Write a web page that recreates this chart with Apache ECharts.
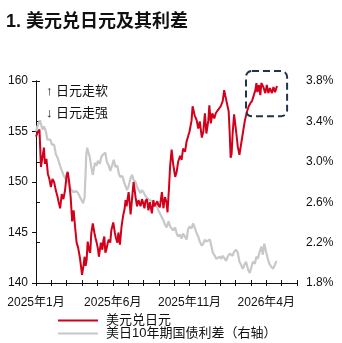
<!DOCTYPE html>
<html>
<head>
<meta charset="utf-8">
<script src="https://cdn.jsdelivr.net/npm/echarts@6/dist/echarts.min.js"></script>
<style>
  html, body { margin: 0; padding: 0; background: #fff; }
  #chart { width: 342px; height: 343px; }
</style>
</head>
<body>
<div id="chart"></div>
<script>
// USD/JPY spot (left axis)
const usdjpyDates = [
  '2025-01-01','2025-01-05','2025-01-08','2025-01-11','2025-01-14','2025-01-17','2025-01-19','2025-01-22','2025-01-25','2025-01-28','2025-01-31',
  '2025-02-03','2025-02-06','2025-02-09','2025-02-12','2025-02-14','2025-02-17','2025-02-20','2025-02-23','2025-02-26',
  '2025-03-01','2025-03-03','2025-03-06','2025-03-09','2025-03-12','2025-03-15','2025-03-18','2025-03-21','2025-03-24','2025-03-27','2025-03-29',
  '2025-04-01','2025-04-04','2025-04-06','2025-04-08','2025-04-10','2025-04-12','2025-04-15','2025-04-17','2025-04-19','2025-04-22','2025-04-25','2025-04-27','2025-04-30',
  '2025-05-02','2025-05-04','2025-05-08','2025-05-11','2025-05-13','2025-05-15','2025-05-17','2025-05-19','2025-05-22','2025-05-24','2025-05-27','2025-05-29',
  '2025-06-02','2025-06-05','2025-06-07','2025-06-10','2025-06-12','2025-06-15','2025-06-18','2025-06-21','2025-06-24','2025-06-26','2025-06-28',
  '2025-07-02','2025-07-04','2025-07-06','2025-07-10','2025-07-12','2025-07-16','2025-07-19','2025-07-22','2025-07-26','2025-07-29','2025-07-31',
  '2025-08-03','2025-08-05','2025-08-08','2025-08-11','2025-08-14','2025-08-18','2025-08-21','2025-08-23','2025-08-26','2025-08-29','2025-08-31',
  '2025-09-03','2025-09-07','2025-09-10','2025-09-13','2025-09-16','2025-09-18','2025-09-21','2025-09-23','2025-09-26','2025-09-29',
  '2025-10-03','2025-10-06','2025-10-09','2025-10-13','2025-10-16','2025-10-19','2025-10-23','2025-10-26','2025-10-29',
  '2025-11-01','2025-11-05','2025-11-07','2025-11-08','2025-11-11','2025-11-15','2025-11-18','2025-11-21','2025-11-25','2025-11-28',
  '2025-12-01','2025-12-04','2025-12-08','2025-12-10','2025-12-13','2025-12-16','2025-12-20','2025-12-23','2025-12-27',
  '2026-01-02','2026-01-06','2026-01-09','2026-01-11','2026-01-15','2026-01-18','2026-01-20','2026-01-22','2026-01-24','2026-01-26','2026-01-29',
  '2026-02-02','2026-02-05','2026-02-08','2026-02-11','2026-02-15','2026-02-18','2026-02-22','2026-02-25','2026-02-28',
  '2026-03-03','2026-03-07','2026-03-10','2026-03-12','2026-03-14','2026-03-17','2026-03-20','2026-03-22','2026-03-26','2026-03-30',
  '2026-04-02','2026-04-05','2026-04-08','2026-04-12','2026-04-15','2026-04-18','2026-04-22'
];
const usdjpyValues = [
  154.5,155.0,155.2,151.5,151.4,153.4,151.8,152.3,150.8,150.3,149.5,
  150.3,150.0,149.2,148.6,148.1,147.4,148.8,148.3,149.2,
  150.7,151.0,150.0,148.5,146.1,147.2,145.5,144.0,143.5,142.7,142.0,
  140.8,141.8,142.6,141.7,142.3,144.1,143.2,143.0,144.9,145.9,145.0,144.5,143.9,
  143.4,142.6,144.0,143.3,144.2,144.6,143.0,143.3,144.0,144.3,144.0,145.2,
  146.0,145.0,144.5,144.0,145.0,143.8,145.5,146.6,147.3,148.2,147.6,
  149.0,148.0,146.8,148.9,150.0,148.5,147.6,148.2,147.6,148.3,148.0,
  147.4,148.1,148.3,147.2,148.0,146.9,148.2,147.6,147.7,148.1,147.7,
  147.5,149.0,147.4,148.5,148.0,147.0,149.5,151.5,153.2,151.8,
  150.5,151.0,152.0,152.6,152.2,153.3,153.0,154.0,154.5,
  155.0,156.1,157.5,157.4,156.6,156.1,155.3,156.0,154.4,155.0,
  156.8,154.8,156.1,157.6,155.8,156.8,156.3,156.8,157.1,
  157.5,158.0,159.1,158.6,158.5,157.0,155.0,152.4,152.8,154.8,156.7,
  155.0,153.5,152.7,152.8,155.1,156.1,157.0,157.5,157.8,
  158.0,158.1,159.1,159.8,158.9,159.6,158.6,159.8,159.4,158.8,
  159.6,158.8,159.3,158.8,159.4,158.9,159.5
];

// US-Japan 10Y government bond yield spread, % (right axis)
const spreadDates = [
  '2025-01-01','2025-01-03','2025-01-06','2025-01-09','2025-01-12','2025-01-14','2025-01-17','2025-01-21','2025-01-24','2025-01-27','2025-01-30',
  '2025-02-02','2025-02-06','2025-02-09','2025-02-11','2025-02-13','2025-02-17','2025-02-21','2025-02-23','2025-02-26',
  '2025-03-01','2025-03-04','2025-03-07','2025-03-11','2025-03-14','2025-03-17','2025-03-20','2025-03-24','2025-03-27','2025-03-30',
  '2025-04-03','2025-04-06','2025-04-08','2025-04-09','2025-04-11','2025-04-14','2025-04-16','2025-04-19','2025-04-22','2025-04-26','2025-04-29',
  '2025-05-02','2025-05-06','2025-05-09','2025-05-12','2025-05-14','2025-05-17','2025-05-20','2025-05-24','2025-05-27','2025-05-31',
  '2025-06-03','2025-06-06','2025-06-10','2025-06-13','2025-06-16','2025-06-20','2025-06-23','2025-06-26','2025-06-29',
  '2025-07-02','2025-07-06','2025-07-09','2025-07-12','2025-07-16','2025-07-19','2025-07-22','2025-07-26','2025-07-29',
  '2025-08-01','2025-08-04','2025-08-08','2025-08-11','2025-08-14','2025-08-18','2025-08-21','2025-08-24','2025-08-28','2025-08-31',
  '2025-09-03','2025-09-06','2025-09-10','2025-09-13','2025-09-16','2025-09-20','2025-09-23','2025-09-26','2025-09-29',
  '2025-10-03','2025-10-06','2025-10-09','2025-10-13','2025-10-16','2025-10-19','2025-10-23','2025-10-26','2025-10-29',
  '2025-11-01','2025-11-05','2025-11-08','2025-11-11','2025-11-15','2025-11-18','2025-11-21','2025-11-25','2025-11-28',
  '2025-12-01','2025-12-04','2025-12-08','2025-12-11','2025-12-14','2025-12-17','2025-12-21','2025-12-24','2025-12-27','2025-12-31',
  '2026-01-03','2026-01-06','2026-01-10','2026-01-13','2026-01-16','2026-01-20','2026-01-23','2026-01-26','2026-01-29',
  '2026-02-02','2026-02-05','2026-02-08','2026-02-11','2026-02-14','2026-02-17','2026-02-20','2026-02-24','2026-02-27',
  '2026-03-02','2026-03-05','2026-03-09','2026-03-12','2026-03-15','2026-03-18','2026-03-22','2026-03-25','2026-03-28',
  '2026-04-01','2026-04-04','2026-04-07','2026-04-11','2026-04-14','2026-04-17','2026-04-20','2026-04-22'
];
const spreadValues = [
  3.30,3.34,3.38,3.41,3.40,3.32,3.35,3.30,3.22,3.21,3.22,
  3.17,3.17,3.08,3.07,3.03,2.96,2.90,2.87,2.84,
  2.82,2.80,2.75,2.72,2.70,2.69,2.71,2.69,2.66,2.65,
  2.59,2.65,2.90,3.05,3.14,3.08,3.05,2.95,2.87,2.99,2.96,
  3.01,2.98,3.05,3.07,3.06,3.09,3.00,2.96,2.91,2.97,
  3.02,2.95,2.96,2.88,2.85,2.86,2.80,2.76,2.72,
  2.76,2.84,2.87,2.82,2.80,2.75,2.74,2.69,2.72,
  2.70,2.67,2.64,2.65,2.62,2.63,2.60,2.58,2.56,2.52,
  2.49,2.50,2.42,2.38,2.35,2.41,2.36,2.37,2.32,
  2.35,2.29,2.26,2.28,2.24,2.29,2.28,2.23,2.33,
  2.36,2.34,2.39,2.35,2.29,2.26,2.21,2.17,2.19,
  2.23,2.21,2.22,2.23,2.17,2.10,2.07,2.04,2.05,2.06,
  2.04,2.07,2.04,2.02,2.06,2.09,2.10,2.07,2.11,
  2.13,2.10,2.01,1.98,1.94,1.98,2.01,1.93,1.90,
  1.96,2.01,1.99,2.06,2.04,2.10,2.16,2.08,2.19,
  2.10,2.04,1.99,1.96,1.94,1.97,2.01,2.01
];

const seriesNames = ['美元兑日元', '美日10年期国债利差（右轴）'];
const startYear = 2025;
const monthCount = 17;          // 2025-01 .. 2026-06
const labelEveryMonths = 5;

const FONT = '"Liberation Sans", Arial, "Noto Sans CJK SC", sans-serif';
const INK = '#111';

// Express a date as fractional months since the start of the x range
function monthPos(s) {
  const [y, m, d] = s.split('-').map(Number);
  const days = new Date(y, m, 0).getDate();
  return (y - startYear) * 12 + (m - 1) + (d - 1) / days;
}
function pairs(dates, values) {
  return dates.map((d, i) => [monthPos(d), values[i]]);
}
function monthLabel(v) {
  const y = startYear + Math.floor(v / 12);
  return y + '年' + (v % 12 + 1) + '月';
}

const chart = echarts.init(document.getElementById('chart'), null, { renderer: 'canvas' });

const xCommon = {
  type: 'value', min: 0, max: monthCount, interval: 1,
  splitLine: { show: false }
};

chart.setOption({
  animation: false,
  backgroundColor: '#fff',
  textStyle: { fontFamily: FONT },
  title: {
    text: '1. 美元兑日元及其利差',
    left: 1, top: 8,
    textStyle: { fontSize: 18, fontWeight: 'bold', color: INK, fontFamily: FONT }
  },
  grid: { left: 36, right: 45, top: 81, bottom: 60 },
  legend: {
    data: seriesNames,
    orient: 'vertical',
    left: 58, top: 314,
    icon: 'rect',
    itemWidth: 40, itemHeight: 2,
    itemGap: 0,
    padding: 0,
    textStyle: { fontSize: 13, color: INK, fontFamily: FONT, lineHeight: 13, padding: [0, 0, 0, 3] }
  },
  xAxis: [
    Object.assign({}, xCommon, {
      position: 'bottom',
      axisLine: { show: true, lineStyle: { color: INK, width: 1 } },
      axisTick: { show: true, inside: true, length: 3, lineStyle: { color: INK } },
      axisLabel: {
        show: true, margin: 14, fontSize: 12, color: INK, fontFamily: FONT,
        showMinLabel: true, showMaxLabel: true,
        formatter: v => (v % labelEveryMonths === 0 && v < monthCount) ? monthLabel(v) : ''
      }
    }),
    Object.assign({}, xCommon, {
      position: 'bottom',
      axisLine: { show: false },
      axisTick: { show: true, inside: false, length: 3, lineStyle: { color: INK } },
      axisLabel: { show: false }
    })
  ],
  yAxis: [
    {
      type: 'value', position: 'left', min: 140, max: 160, interval: 5,
      splitLine: { show: false },
      axisLine: { show: true, lineStyle: { color: INK } },
      axisTick: { show: true, inside: false, length: 4, lineStyle: { color: INK } },
      axisLabel: { fontSize: 12, color: INK, margin: 8, fontFamily: FONT }
    },
    {
      type: 'value', position: 'right', min: 1.8, max: 3.8, interval: 0.4,
      splitLine: { show: false },
      axisLine: { show: true, lineStyle: { color: INK } },
      axisTick: { show: true, inside: false, length: 4, lineStyle: { color: INK } },
      axisLabel: { fontSize: 12, color: INK, margin: 9, fontFamily: FONT,
        formatter: v => v.toFixed(1) + '%' }
    }
  ],
  series: [
    {
      name: seriesNames[0], type: 'line', xAxisIndex: 0, yAxisIndex: 0,
      data: pairs(usdjpyDates, usdjpyValues),
      showSymbol: false, symbol: 'none', z: 3,
      lineStyle: { color: '#d2001a', width: 2 },
      itemStyle: { color: '#d2001a' }
    },
    {
      name: seriesNames[1], type: 'line', xAxisIndex: 0, yAxisIndex: 1,
      data: pairs(spreadDates, spreadValues),
      showSymbol: false, symbol: 'none', z: 2,
      lineStyle: { color: '#c8c8c8', width: 2.2 },
      itemStyle: { color: '#c8c8c8' }
    }
  ]
});

// Annotations: direction hints and the dashed box around the latest stretch
const tl = chart.convertToPixel({ xAxisIndex: 0, yAxisIndex: 0 }, [monthPos('2026-02-20'), 161.0]);
const br = chart.convertToPixel({ xAxisIndex: 0, yAxisIndex: 0 }, [monthPos('2026-05-12'), 156.5]);

chart.setOption({
  graphic: [
    { type: 'text', left: 46, top: 85,
      style: { text: '↑ 日元走软', font: '13px ' + FONT, fill: INK } },
    { type: 'text', left: 46, top: 107,
      style: { text: '↓ 日元走强', font: '13px ' + FONT, fill: INK } },
    { type: 'rect', z: 10,
      shape: { x: tl[0], y: tl[1], width: br[0] - tl[0], height: br[1] - tl[1], r: 6 },
      style: { fill: 'none', stroke: '#22344a', lineWidth: 2, lineDash: [7, 4] } }
  ]
});
</script>
</body>
</html>
